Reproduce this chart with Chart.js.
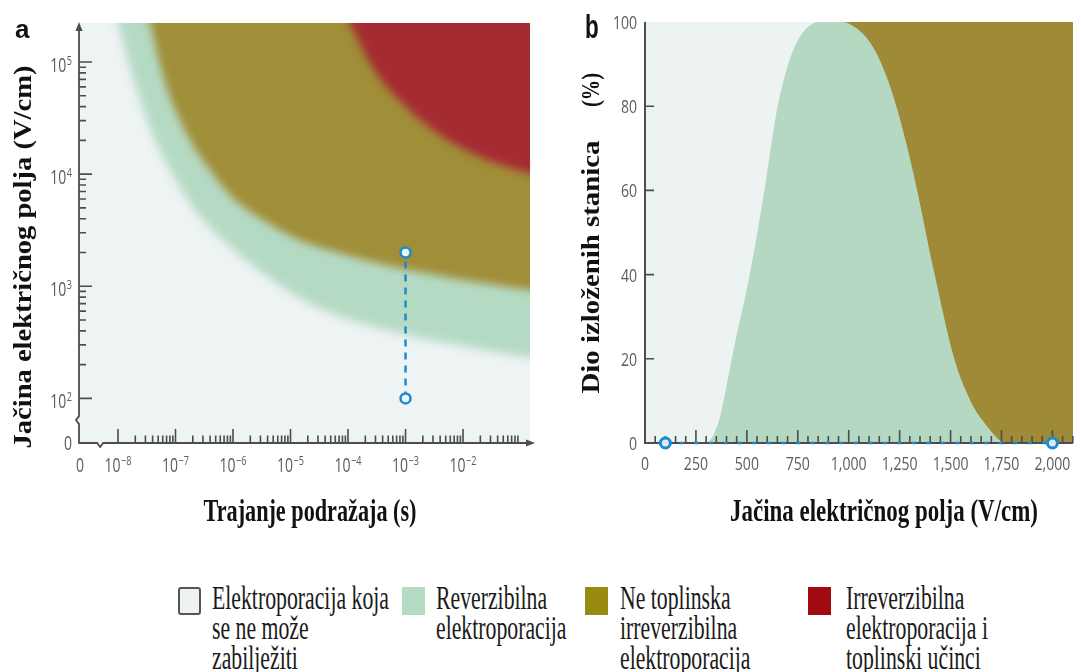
<!DOCTYPE html>
<html>
<head>
<meta charset="utf-8">
<script src="https://cdn.jsdelivr.net/npm/chart.js@4.4.1/dist/chart.umd.min.js"></script>
<style>
  body { margin: 0; background: #fff; }
  #wrap { position: relative; width: 1081px; height: 672px; overflow: hidden; }
  #wrap canvas { position: absolute; top: 0; }
  #chartA { left: 0; }
  #chartB { left: 545px; }
  .lg-box { position: absolute; top: 587px; width: 23px; height: 28px; box-sizing: border-box; }
  .lg-txt { position: absolute; top: 583px; font: 33px 'Liberation Serif', 'Times New Roman', serif;
            line-height: 30px; color: #1a1a1a; white-space: nowrap; transform-origin: 0 0; }
</style>
</head>
<body>
<div id="wrap">
  <canvas id="chartA" width="545" height="560"></canvas>
  <canvas id="chartB" width="536" height="560"></canvas>

  <div class="lg-box" style="left:178px;background:#eef2f3;border:2px solid #555;border-radius:3px;"></div>
  <div class="lg-txt" style="left:212px;">Elektroporacija koja<br>se ne može<br>zabilježiti</div>
  <div class="lg-box" style="left:402px;background:#b3dcc2;"></div>
  <div class="lg-txt" style="left:436px;">Reverzibilna<br>elektroporacija</div>
  <div class="lg-box" style="left:585px;background:#998b12;"></div>
  <div class="lg-txt" style="left:620px;">Ne toplinska<br>irreverzibilna<br>elektroporacija</div>
  <div class="lg-box" style="left:808px;background:#a00a10;"></div>
  <div class="lg-txt" style="left:846px;">Irreverzibilna<br>elektroporacija i<br>toplinski učinci</div>
</div>

<script>
// ---- panel a: pulse duration (s) vs field strength (V/cm), region edges ----
const greenEdgeT = [3.5e-9, 1e-8, 2e-8, 4.4e-8, 8.7e-8, 2.0e-7, 6.7e-7, 3.3e-6, 2.9e-5, 8.0e-4, 8.9e-3, 0.146, 1];
const greenEdgeE = [1.6e6, 2.2e5, 62400, 20100, 10200, 5070, 2580, 1310, 650, 380, 297, 232, 210];
const oliveEdgeT = [1.35e-8, 3.6e-8, 6.8e-8, 1.8e-7, 4.0e-7, 9.6e-7, 2.95e-6, 1.46e-5, 7.3e-5, 8.0e-4, 0.146, 1];
const oliveEdgeE = [1.6e6, 2.2e5, 62400, 20100, 10870, 6240, 4050, 2580, 1970, 1450, 920, 800];
const redEdgeT = [1.5e-5, 1.08e-4, 2.7e-4, 8.0e-4, 4.0e-3, 0.0223, 0.146, 1];
const redEdgeE = [1.6e6, 2.2e5, 88400, 44900, 22300, 13900, 10200, 8000];
const markerT = [1e-3, 1e-3];
const markerE = [100, 2000];
const durationTicks = [1e-8, 1e-7, 1e-6, 1e-5, 1e-4, 1e-3, 1e-2];
const fieldTicks = [1e2, 1e3, 1e4, 1e5];

// ---- panel b: field strength (V/cm) vs share of exposed cells (%) ----
const riseField = [0, 300, 361, 394, 426, 514, 586, 617, 651, 685, 717, 755, 800, 850, 2200];
const risePct = [0, 0, 5, 12, 20, 40, 60, 70, 80, 87, 92, 96, 98.8, 100, 100];
const fallField = [0, 972, 1027, 1080, 1133, 1183, 1232, 1282, 1330, 1422, 1518, 1598, 1663, 1775, 2200];
const fallPct = [100, 100, 98.9, 96.7, 92.9, 87.4, 80.3, 71.3, 61.3, 40, 20, 10, 5, 0, 0];
const sweepField = [100, 2000];
const sweepPct = [0, 0];
const pctTicks = [0, 20, 40, 60, 80, 100];
const fieldTicksB = [0, 250, 500, 750, 1000, 1250, 1500, 1750, 2000];

const tickFont = "'Open Sans', 'DejaVu Sans', sans-serif";
const serifFont = "'Liberation Serif', 'Times New Roman', serif";
const axisInk = '#4d4d4d';
const labelInk = '#5c5c5c';
const blue = '#1b8bd0';

const pts = (xs, ys) => xs.map((v, i) => ({ x: v, y: ys[i] }));

function drawText(ctx, s, x, y, o) {
    ctx.save();
    ctx.font = o.font;
    ctx.fillStyle = o.color || '#111';
    ctx.textBaseline = o.baseline || 'alphabetic';
    ctx.textAlign = 'left';
    ctx.translate(x, y);
    if (o.rot) {
        ctx.rotate(o.rot);
    }
    const w = ctx.measureText(s).width;
    const sx = o.width ? o.width / w : (o.sx || 1);
    ctx.scale(sx, 1);
    const off = o.align === 'center' ? -w / 2 : o.align === 'right' ? -w : 0;
    ctx.fillText(s, off, 0);
    ctx.restore();
    return w * sx;
}

function textWidth(ctx, s, font, sx) {
    ctx.save();
    ctx.font = font;
    const w = ctx.measureText(s).width * sx;
    ctx.restore();
    return w;
}

// "10" with a raised exponent
function drawPow(ctx, v, x, y, align) {
    const n = Math.round(Math.log10(v));
    const exp = n < 0 ? '\u2212' + (-n) : String(n);
    const sx = 0.7;
    const fb = `20px ${tickFont}`;
    const fe = `13px ${tickFont}`;
    const wb = textWidth(ctx, '10', fb, sx);
    const we = textWidth(ctx, exp, fe, sx);
    const total = wb + we + 0.5;
    const left = align === 'center' ? x - total / 2 : x - total;
    drawText(ctx, '10', left, y, { font: fb, sx, color: labelInk });
    drawText(ctx, exp, left + wb + 0.5, y - 7.5, { font: fe, sx, color: labelInk });
}

function softRegion(label, xs, ys, color, order) {
    return {
        label,
        data: pts(xs, ys),
        backgroundColor: color,
        borderWidth: 0,
        pointRadius: 0,
        fill: { value: 1e8 },
        cubicInterpolationMode: 'monotone',
        order,
    };
}

const panelA = {
    id: 'panelA',
    beforeDraw(chart) {
        const { ctx, chartArea: ca } = chart;
        ctx.save();
        ctx.fillStyle = '#eef3f4';
        ctx.fillRect(ca.left, ca.top, ca.right - ca.left, ca.bottom - ca.top);
        ctx.restore();
    },
    beforeDatasetsDraw(chart) {
        chart.ctx.filter = 'blur(4.5px)';
    },
    afterDatasetDraw(chart, args) {
        if (chart.data.datasets[args.index].label === 'red') {
            chart.ctx.filter = 'none';
        }
    },
    afterDatasetsDraw(chart) {
        chart.ctx.filter = 'none';
    },
    afterDraw(chart) {
        const { ctx, chartArea: ca, scales: { x, y } } = chart;
        const L = ca.left;
        const B = ca.bottom;
        ctx.save();
        ctx.strokeStyle = axisInk;
        ctx.fillStyle = axisInk;
        ctx.lineWidth = 1.6;

        ctx.beginPath();
        durationTicks.forEach((v) => {
            const px = x.getPixelForValue(v);
            ctx.moveTo(px, B);
            ctx.lineTo(px, B - 14);
            for (let m = 2; m <= 9; m++) {
                const pm = x.getPixelForValue(v * m);
                if (pm > ca.right) {
                    break;
                }
                ctx.moveTo(pm, B);
                ctx.lineTo(pm, B - 7.5);
            }
        });
        fieldTicks.forEach((v, i) => {
            const py = y.getPixelForValue(v);
            ctx.moveTo(L, py);
            ctx.lineTo(L + 13, py);
            if (i < fieldTicks.length - 1) {
                for (let m = 2; m <= 9; m++) {
                    const pm = y.getPixelForValue(v * m);
                    ctx.moveTo(L, pm);
                    ctx.lineTo(L + 7, pm);
                }
            }
        });
        ctx.stroke();

        // axes with breaks near the origin
        const yb = y.getPixelForValue(64);
        const xb = x.getPixelForValue(4.9e-9);
        ctx.lineWidth = 1.8;
        ctx.beginPath();
        ctx.moveTo(L, ca.top + 6);
        ctx.lineTo(L, yb - 4);
        ctx.lineTo(L - 3, yb);
        ctx.lineTo(L, yb + 4);
        ctx.lineTo(L, B);
        ctx.lineTo(xb - 3, B);
        ctx.lineTo(xb, B + 4);
        ctx.lineTo(xb + 3, B);
        ctx.lineTo(ca.right, B);
        ctx.stroke();
        ctx.beginPath();
        ctx.moveTo(L, ca.top - 1);
        ctx.lineTo(L - 3.5, ca.top + 8);
        ctx.lineTo(L + 3.5, ca.top + 8);
        ctx.closePath();
        ctx.fill();
        ctx.beginPath();
        ctx.moveTo(ca.right + 5, B);
        ctx.lineTo(ca.right - 4, B - 3.5);
        ctx.lineTo(ca.right - 4, B + 3.5);
        ctx.closePath();
        ctx.fill();
        ctx.restore();

        // tick labels
        drawText(ctx, '0', L + 1, 472, { font: `20px ${tickFont}`, sx: 0.7, align: 'center', color: labelInk });
        drawText(ctx, '0', L - 7, B + 7, { font: `20px ${tickFont}`, sx: 0.7, align: 'right', color: labelInk });
        durationTicks.forEach((v) => drawPow(ctx, v, x.getPixelForValue(v), 472, 'center'));
        fieldTicks.forEach((v) => drawPow(ctx, v, L - 7, y.getPixelForValue(v) + 10, 'right'));

        // titles and panel letter
        drawText(ctx, 'a', 15, 38, { font: `bold 26px 'Liberation Sans', Arial, sans-serif`, color: '#111' });
        drawText(ctx, 'Jačina električnog polja (V/cm)', 25, 257,
            { font: `bold 25px ${serifFont}`, width: 383, align: 'center', baseline: 'middle', rot: -Math.PI / 2 });
        drawText(ctx, 'Trajanje podražaja (s)', 310, 521,
            { font: `bold 31px ${serifFont}`, width: 213, align: 'center' });
    },
};

function drawAxesB(chart) {
    const { ctx, chartArea: ca, scales: { x, y } } = chart;
    const L = ca.left;
    const B = ca.bottom;
    ctx.save();
    ctx.strokeStyle = axisInk;
    ctx.lineWidth = 1.6;
    ctx.beginPath();
    for (let v = 50; v <= x.max; v += 50) {
        const px = x.getPixelForValue(v);
        const major = fieldTicksB.includes(v);
        ctx.moveTo(px, B);
        ctx.lineTo(px, B - (major ? 13 : 7));
    }
    pctTicks.forEach((v) => {
        if (v === 0 || v === 100) {
            return;
        }
        const py = y.getPixelForValue(v);
        ctx.moveTo(L, py);
        ctx.lineTo(L + 9, py);
    });
    ctx.stroke();
    ctx.lineWidth = 2;
    ctx.beginPath();
    ctx.moveTo(L, ca.top);
    ctx.lineTo(L, B);
    ctx.lineTo(ca.right, B);
    ctx.stroke();
    ctx.restore();
}

const panelB = {
    id: 'panelB',
    beforeDraw(chart) {
        const { ctx, chartArea: ca } = chart;
        ctx.save();
        ctx.fillStyle = '#edf2f3';
        ctx.fillRect(ca.left, ca.top, ca.right - ca.left, ca.bottom - ca.top);
        ctx.restore();
    },
    // axes go over the filled areas but under the sweep markers
    afterDatasetDraw(chart, args) {
        if (chart.data.datasets[args.index].label === 'irreversible') {
            drawAxesB(chart);
        }
    },
    afterDraw(chart) {
        const { ctx, chartArea: ca, scales: { x, y } } = chart;
        fieldTicksB.forEach((v) => {
            drawText(ctx, v.toLocaleString('en-US'), x.getPixelForValue(v), 470,
                { font: `19px ${tickFont}`, sx: 0.74, align: 'center', color: labelInk });
        });
        pctTicks.forEach((v) => {
            drawText(ctx, String(v), ca.left - 8, y.getPixelForValue(v) + 7,
                { font: `19px ${tickFont}`, sx: 0.74, align: 'right', color: labelInk });
        });
        drawText(ctx, 'b', 40, 38, { font: `bold 33px 'Liberation Sans', Arial, sans-serif`, sx: 0.68, color: '#111' });
        drawText(ctx, 'Dio izloženih stanica', 48, 267,
            { font: `bold 25px ${serifFont}`, width: 253, align: 'center', baseline: 'middle', rot: -Math.PI / 2 });
        drawText(ctx, '(%)', 48, 90,
            { font: `bold 25px ${serifFont}`, width: 34, align: 'center', baseline: 'middle', rot: -Math.PI / 2 });
        drawText(ctx, 'Jačina električnog polja (V/cm)', 884 - 545, 521,
            { font: `bold 31px ${serifFont}`, width: 308, align: 'center' });
    },
};

new Chart(document.getElementById('chartA'), {
    type: 'line',
    data: {
        datasets: [
            softRegion('green', greenEdgeT, greenEdgeE, '#b5dac4', 4),
            softRegion('olive', oliveEdgeT, oliveEdgeE, '#a08e38', 3),
            softRegion('red', redEdgeT, redEdgeE, '#a52b33', 2),
            {
                label: 'marker',
                data: pts(markerT, markerE),
                borderColor: blue,
                borderWidth: 2.5,
                borderDash: [7, 6],
                pointRadius: 5,
                pointBorderWidth: 2.5,
                pointBorderColor: blue,
                pointBackgroundColor: '#eef3f4',
                fill: false,
                order: 1,
            },
        ],
    },
    options: {
        responsive: false,
        animation: false,
        layout: { padding: { left: 79, right: 15, top: 23, bottom: 117 } },
        plugins: { legend: { display: false }, tooltip: { enabled: false } },
        scales: {
            x: { type: 'logarithmic', display: false, min: 2.1e-9, max: 0.146, bounds: 'data' },
            y: { type: 'logarithmic', display: false, min: 40, max: 2.23e5, bounds: 'data' },
        },
    },
    plugins: [panelA],
});

new Chart(document.getElementById('chartB'), {
    type: 'line',
    data: {
        datasets: [
            {
                label: 'reversible',
                data: pts(riseField, risePct),
                backgroundColor: '#b4d8c1',
                borderWidth: 0,
                pointRadius: 0,
                fill: 'origin',
                cubicInterpolationMode: 'monotone',
                order: 3,
            },
            {
                label: 'irreversible',
                data: pts(fallField, fallPct),
                backgroundColor: '#9f8b37',
                borderWidth: 0,
                pointRadius: 0,
                fill: 'end',
                cubicInterpolationMode: 'monotone',
                order: 2,
            },
            {
                label: 'sweep',
                data: pts(sweepField, sweepPct),
                borderColor: blue,
                borderWidth: 2.5,
                borderDash: [4, 10.5],
                pointRadius: 5,
                pointBorderWidth: 3,
                pointBorderColor: blue,
                pointBackgroundColor: '#dfe9ee',
                fill: false,
                clip: false,
                order: 1,
            },
        ],
    },
    options: {
        responsive: false,
        animation: false,
        layout: { padding: { left: 100, right: 0, top: 22, bottom: 117 } },
        plugins: { legend: { display: false }, tooltip: { enabled: false } },
        scales: {
            x: { type: 'linear', display: false, min: 0, max: 2101 },
            y: { type: 'linear', display: false, min: 0, max: 100 },
        },
    },
    plugins: [panelB],
});

// the legend face is a tall, narrow serif: squeeze it to the measured width
(function () {
    const c = document.createElement('canvas').getContext('2d');
    c.font = "33px 'Liberation Serif', 'Times New Roman', serif";
    const k = 177 / c.measureText('Elektroporacija koja').width;
    document.querySelectorAll('.lg-txt').forEach((el) => {
        el.style.transform = `scaleX(${k})`;
    });
})();
</script>
</body>
</html>
